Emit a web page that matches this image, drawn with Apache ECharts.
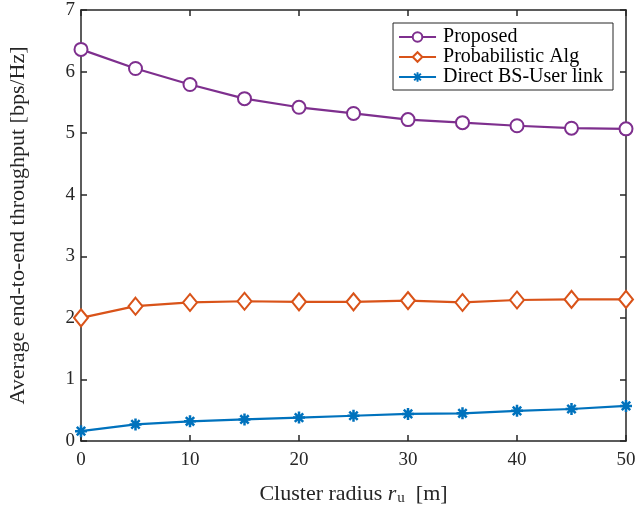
<!DOCTYPE html>
<html>
<head>
<meta charset="utf-8">
<script src="https://cdn.jsdelivr.net/npm/echarts@6/dist/echarts.min.js"></script>
<style>
	html, body { margin: 0; padding: 0; background: #fff; }
	#main { width: 635px; height: 506px; }
</style>
</head>
<body>
<div id="main"></div>
<script>
	// 数据
	var radius = [0, 5, 10, 15, 20, 25, 30, 35, 40, 45, 50];
	var proposed = [6.36, 6.05, 5.79, 5.56, 5.42, 5.32, 5.22, 5.17, 5.12, 5.08, 5.07];
	var probabilistic = [2.00, 2.19, 2.25, 2.27, 2.26, 2.26, 2.28, 2.25, 2.29, 2.30, 2.30];
	var direct = [0.16, 0.27, 0.32, 0.35, 0.38, 0.41, 0.44, 0.45, 0.49, 0.52, 0.57];
	var seriesNames = ['Proposed', 'Probabilistic Alg', 'Direct BS-User link'];

	function pairs(ys) {
		return radius.map(function (x, i) { return [x, ys[i]]; });
	}

	var axisColor = '#262626';
	var font = 'Liberation Serif';
	var asterisk = 'path://M0,-10L0,10M-10,0L10,0M-7,-7L7,7M-7,7L7,-7';

	// 边框轴（上、右）只画线和刻度
	function boxAxis(pos, max, interval) {
		return {
			type: 'value',
			position: pos,
			min: 0,
			max: max,
			interval: interval,
			axisLine: { show: true, onZero: false, lineStyle: { color: axisColor, width: 1.5 } },
			axisTick: { show: true, inside: true, length: 6, lineStyle: { color: axisColor, width: 1.5 } },
			axisLabel: { show: false },
			splitLine: { show: false }
		};
	}

	var myChart = echarts.init(document.getElementById('main'));
	var option = {
		animation: false,
		grid: {
			left: 81,
			right: 9,
			top: 10,
			bottom: 65,
			outerBoundsMode: 'none',
			containLabel: false
		},
		legend: {
			right: 22,
			top: 23,
			orient: 'vertical',
			data: seriesNames,
			backgroundColor: '#fff',
			borderColor: axisColor,
			borderWidth: 1,
			padding: [4, 10, 3, 5],
			itemGap: 0,
			itemWidth: 37,
			itemHeight: 12,
			textStyle: {
				fontFamily: font,
				fontSize: 20,
				color: '#000',
				padding: [0, 0, 0, 2]
			}
		},
		xAxis: [{
			type: 'value',
			min: 0,
			max: 50,
			interval: 10,
			name: '{a|Cluster radius }{r|r}{s|u}{a|  [m]}',
			nameLocation: 'middle',
			nameGap: 41,
			nameTextStyle: {
				rich: {
					a: { fontFamily: font, fontSize: 22, color: '#262626' },
					r: { fontFamily: font, fontSize: 22, fontStyle: 'italic', color: '#262626' },
					s: { fontFamily: font, fontSize: 15, color: '#262626', padding: [9, 0, 0, 1] }
				}
			},
			axisLine: { show: true, onZero: false, lineStyle: { color: axisColor, width: 1.5 } },
			axisTick: { show: true, inside: true, length: 6, lineStyle: { color: axisColor, width: 1.5 } },
			axisLabel: { fontFamily: font, fontSize: 19, color: '#262626', margin: 10 },
			splitLine: { show: false }
		}, boxAxis('top', 50, 10)],
		yAxis: [{
			type: 'value',
			min: 0,
			max: 7,
			interval: 1,
			name: 'Average end-to-end throughput [bps/Hz]',
			nameLocation: 'middle',
			nameGap: 52,
			nameTextStyle: { fontFamily: font, fontSize: 22, color: '#262626' },
			axisLine: { show: true, onZero: false, lineStyle: { color: axisColor, width: 1.5 } },
			axisTick: { show: true, inside: true, length: 6, lineStyle: { color: axisColor, width: 1.5 } },
			axisLabel: { fontFamily: font, fontSize: 19, color: '#262626', margin: 6 },
			splitLine: { show: false }
		}, boxAxis('right', 7, 1)],
		series: [{
			name: seriesNames[0],
			type: 'line',
			data: pairs(proposed),
			symbol: 'emptyCircle',
			symbolSize: 13,
			color: '#7E2F8E',
			lineStyle: { width: 2.2 },
			itemStyle: { borderWidth: 2.2 }
		}, {
			name: seriesNames[1],
			type: 'line',
			data: pairs(probabilistic),
			symbol: 'emptyDiamond',
			symbolSize: [14, 17],
			color: '#D95319',
			lineStyle: { width: 2.2 },
			itemStyle: { borderWidth: 2.2 }
		}, {
			name: seriesNames[2],
			type: 'line',
			data: pairs(direct),
			symbol: asterisk,
			symbolSize: 12,
			color: '#0072BD',
			lineStyle: { width: 2.2 },
			itemStyle: { borderColor: '#0072BD', borderWidth: 2.5 }
		}]
	};

	myChart.setOption(option);
</script>
</body>
</html>
